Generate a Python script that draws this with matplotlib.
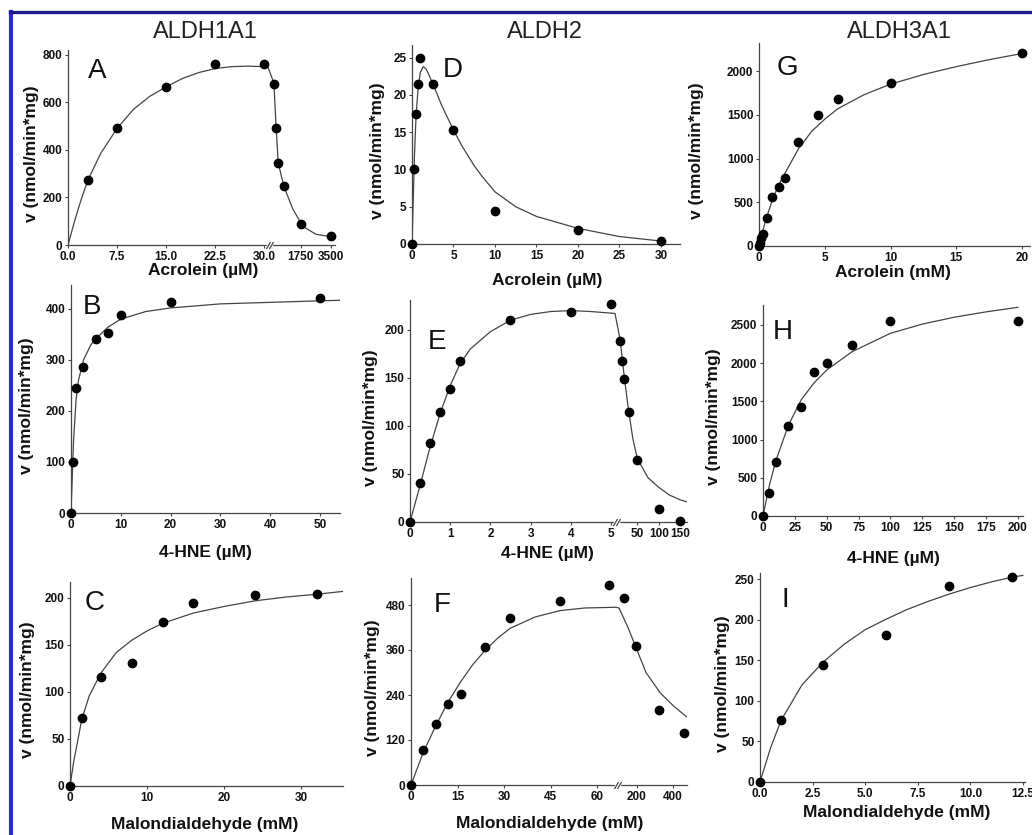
import numpy as np
import matplotlib
matplotlib.use("Agg")
import matplotlib.pyplot as plt
from matplotlib.lines import Line2D

plt.rcParams['font.family'] = ['Liberation Sans', 'DejaVu Sans']

W, H = 1032, 835

# ---- ALDH1A1 ----
a1_acr_s = [3, 7.5, 15, 22.5, 30, 200, 330, 450, 780, 1750, 3500]
a1_acr_v = [272, 490, 666, 762, 762, 678, 490, 343, 247, 88, 38]
a1_acr_fit_s = [0, 1, 2, 3, 5, 7.5, 10, 12.5, 15, 17.5, 20, 22.5, 25, 27.5, 30, 30.6,
                200, 330, 450, 780, 1300, 1880, 2630, 3500]
a1_acr_fit_v = [0, 100, 190, 270, 385, 490, 570, 625, 665, 700, 725, 742, 750, 752, 750, 748,
                680, 490, 345, 245, 150, 78, 45, 35]

a1_hne_s = [0, 0.5, 1, 2.5, 5, 7.5, 10, 20, 50]
a1_hne_v = [0, 100, 245, 287, 342, 353, 389, 413, 421]
a1_hne_fit_s = [0, 0.25, 0.5, 1, 1.5, 2.5, 4, 5, 7.5, 10, 15, 20, 30, 40, 50, 54]
a1_hne_fit_v = [0, 70, 140, 220, 260, 300, 330, 342, 365, 380, 395, 402, 410, 413, 416, 417]

a1_mda_s = [0, 1.5, 4, 8, 12, 16, 24, 32]
a1_mda_v = [0, 72, 116, 131, 174, 195, 203, 204]
a1_mda_fit_s = [0, 0.5, 1, 1.5, 2.5, 4, 6, 8, 10, 12, 16, 20, 24, 28, 32, 35.4]
a1_mda_fit_v = [0, 27, 48, 70, 96, 120, 142, 155, 165, 173, 184, 191, 197, 201, 204, 207]

# ---- ALDH2 ----
a2_acr_s = [0, 0.3, 0.5, 0.75, 1, 2.5, 5, 10, 20, 30]
a2_acr_v = [0, 10, 17.5, 21.5, 25, 21.5, 15.3, 4.4, 1.9, 0.4]
a2_acr_fit_s = [0, 0.3, 0.5, 0.75, 1.0, 1.35, 1.7, 2, 2.5, 3, 3.5, 4, 5, 6, 7.5, 8.5, 10,
                12.5, 15, 20, 25, 30]
a2_acr_fit_v = [0, 12, 17.5, 21, 23, 23.8, 23.5, 22.8, 21.5, 20.2, 18.8, 17.6, 15.3, 13.2,
                10.5, 9.0, 7.0, 5.0, 3.7, 2.1, 1.0, 0.4]

a2_hne_s = [0, 0.25, 0.5, 0.75, 1, 1.25, 2.5, 4, 5, 10, 15, 20, 30, 50, 100, 150]
a2_hne_v = [0, 41, 82, 114, 138, 168, 210, 219, 227, 188, 168, 149, 114, 64, 14, 1]
a2_hne_fit_s = [0, 0.25, 0.5, 0.75, 1, 1.25, 1.5, 2, 2.5, 3, 3.5, 4, 4.5, 5.1,
                10, 15, 20, 30, 40, 50, 75, 100, 125, 150, 165]
a2_hne_fit_v = [0, 38, 78, 113, 142, 165, 180, 198, 210, 216, 219, 220, 219, 217,
                190, 170, 150, 115, 86, 66, 46, 36, 28, 23, 21]

a2_mda_s = [0, 4, 8, 12, 16, 24, 32, 48, 64, 128, 192, 320, 460]
a2_mda_v = [0, 93, 163, 215, 243, 367, 446, 491, 533, 500, 371, 200, 140]
a2_mda_fit_s = [0, 4, 8, 12, 16, 20, 24, 28, 32, 40, 48, 56, 66.1,
                100, 150, 190, 250, 330, 405, 475]
a2_mda_fit_v = [0, 88, 158, 222, 275, 322, 360, 392, 418, 448, 465, 472, 474,
                472, 420, 372, 300, 245, 210, 182]

# ---- ALDH3A1 ----
a3_acr_s = [0, 0.05, 0.15, 0.3, 0.6, 1, 1.5, 2, 3, 4.5, 6, 10, 20]
a3_acr_v = [0, 40, 90, 140, 320, 560, 670, 780, 1190, 1500, 1680, 1860, 2210]
a3_acr_fit_s = [0, 0.25, 0.5, 1, 1.5, 2, 3, 4, 5, 6, 8, 10, 12.5, 15, 17.5, 20]
a3_acr_fit_v = [0, 150, 290, 520, 700, 840, 1110, 1310, 1450, 1570, 1730, 1850, 1960, 2050, 2130, 2200]

a3_hne_s = [0, 5, 10, 20, 30, 40, 50, 70, 100, 200]
a3_hne_v = [0, 300, 710, 1180, 1430, 1890, 2000, 2240, 2545, 2545]
a3_hne_fit_s = [0, 5, 10, 20, 30, 40, 50, 70, 100, 125, 150, 175, 200]
a3_hne_fit_v = [0, 400, 720, 1190, 1520, 1740, 1910, 2150, 2390, 2510, 2600, 2670, 2730]

a3_mda_s = [0, 1, 3, 6, 9, 12]
a3_mda_v = [0, 77, 145, 181, 242, 253]
a3_mda_fit_s = [0, 0.5, 1, 2, 3, 4, 5, 6, 7, 8, 9, 10, 11, 12, 12.5]
a3_mda_fit_v = [0, 42, 76, 120, 148, 170, 188, 201, 213, 223, 232, 240, 247, 253, 255]

# ---- ticks ----
xt_a = [0, 7.5, 15, 22.5, 30, 1750, 3500]
xtl_a = ['0.0', '7.5', '15.0', '22.5', '30.0', '1750', '3500']
xt_d = [0, 5, 10, 15, 20, 25, 30]
xt_g = [0, 5, 10, 15, 20]
xt_b = [0, 10, 20, 30, 40, 50]
xt_e = [0, 1, 2, 3, 4, 5, 50, 100, 150]
xt_h = [0, 25, 50, 75, 100, 125, 150, 175, 200]
xt_c = [0, 10, 20, 30]
xt_f = [0, 15, 30, 45, 60, 200, 400]
xt_i = [0, 2.5, 5, 7.5, 10, 12.5]
xtl_i = ['0.0', '2.5', '5.0', '7.5', '10.0', '12.5']

yt_a = [0, 200, 400, 600, 800]
yt_d = [0, 5, 10, 15, 20, 25]
yt_g = [0, 500, 1000, 1500, 2000]
yt_b = [0, 100, 200, 300, 400]
yt_e = [0, 50, 100, 150, 200]
yt_h = [0, 500, 1000, 1500, 2000, 2500]
yt_c = [0, 50, 100, 150, 200]
yt_f = [0, 120, 240, 360, 480]
yt_i = [0, 50, 100, 150, 200, 250]

YLABEL = 'v (nmol/min*mg)'
LINE_C = '#444444'

fig = plt.figure(figsize=(W / 100, H / 100), dpi=100)


def px_axes(left, right, bottom, top):
    return fig.add_axes([left / W, 1 - bottom / H, (right - left) / W, (bottom - top) / H])


def piecewise_scale(data_knots, px_knots):
    d = np.asarray(data_knots, float)
    p = np.asarray(px_knots, float)
    s0 = (p[1] - p[0]) / (d[1] - d[0])
    s1 = (p[-1] - p[-2]) / (d[-1] - d[-2])
    d = np.concatenate([[d[0] - 1e6], d, [d[-1] + 1e6]])
    p = np.concatenate([[p[0] - 1e6 * s0], p, [p[-1] + 1e6 * s1]])
    return (lambda x: np.interp(x, d, p)), (lambda y: np.interp(y, p, d))


def panel(box, s, v, fit_s, fit_v, xlim, ylim, xticks, yticks, xlabel, letter, letter_px,
          xlab_pos, ylab_x, xticklabels=None, breaks=None):
    left, right, bottom, top = box
    ax = px_axes(left, right, bottom, top)
    if breaks is not None:
        data_knots, px_knots = breaks
        ax.set_xscale('function', functions=piecewise_scale(data_knots, px_knots))
    ax.plot(fit_s, fit_v, color=LINE_C, lw=0.9, zorder=2)
    ax.plot(s, v, 'o', color='black', ms=6, zorder=3, clip_on=False)
    ax.set_xlim(*xlim)
    ax.set_ylim(*ylim)
    ax.set_xticks(xticks)
    if xticklabels is not None:
        ax.set_xticklabels(xticklabels)
    ax.set_yticks(yticks)
    for side in ('top', 'right'):
        ax.spines[side].set_visible(False)
    for side in ('left', 'bottom'):
        ax.spines[side].set_color(LINE_C)
        ax.spines[side].set_linewidth(0.9)
    ax.tick_params(direction='out', length=2.5, width=0.8, color=LINE_C, pad=1.5,
                   labelsize=8.5, labelcolor='#111111')
    for lab in ax.get_xticklabels() + ax.get_yticklabels():
        lab.set_fontweight('bold')
    ax.set_xlabel(xlabel, fontsize=12.5, fontweight='bold', color='#111111')
    ax.set_ylabel(YLABEL, fontsize=12.5, fontweight='bold', color='#111111')
    ax.xaxis.set_label_coords(*xlab_pos)
    ax.xaxis.label.set_verticalalignment('center')
    ax.yaxis.set_label_coords(ylab_x, 0.47)
    ax.yaxis.label.set_verticalalignment('center')
    lx, ly = letter_px
    ax.text((lx - left) / (right - left), (bottom - ly) / (bottom - top), letter,
            transform=ax.transAxes, fontsize=20, ha='center', va='center', color='#111111')
    if breaks is not None:
        # axis break: white gap in the baseline with two slashes
        b0, b1 = breaks[0][1], breaks[0][2]
        trans = ax.get_xaxis_transform()
        ax.plot([b0, b1], [0, 0], color='white', lw=2.5, transform=trans,
                clip_on=False, zorder=4)
        ax.plot([b0, b1], [0, 0], ls='none', marker=[(-1, -1.7), (1, 1.7)], ms=5,
                mec=LINE_C, mew=0.9, transform=trans, clip_on=False, zorder=5)
    return ax


# top row: acrolein
panel((68, 335, 245, 50), a1_acr_s, a1_acr_v, a1_acr_fit_s, a1_acr_fit_v,
      (0, 3730), (0, 820), xt_a, yt_a, 'Acrolein (µM)', 'A', (97, 71),
      (0.506, -0.13), -0.135, xticklabels=xtl_a,
      breaks=([0, 30.6, 31, 3730], [0, 200, 203, 267]))
panel((412, 680, 244, 45), a2_acr_s, a2_acr_v, a2_acr_fit_s, a2_acr_fit_v,
      (0, 32.3), (0, 26.7), xt_d, yt_d, 'Acrolein (µM)', 'D', (453, 70),
      (0.504, -0.181), -0.129)
panel((759, 1030, 246, 43), a3_acr_s, a3_acr_v, a3_acr_fit_s, a3_acr_fit_v,
      (0, 20.6), (0, 2320), xt_g, yt_g, 'Acrolein (mM)', 'G', (787, 68),
      (0.494, -0.13), -0.229)

# middle row: 4-HNE
panel((71, 340, 513, 285), a1_hne_s, a1_hne_v, a1_hne_fit_s, a1_hne_fit_v,
      (0, 54), (0, 447), xt_b, yt_b, '4-HNE (µM)', 'B', (92, 307),
      (0.498, -0.175), -0.164)
panel((410, 687, 522, 300), a2_hne_s, a2_hne_v, a2_hne_fit_s, a2_hne_fit_v,
      (0, 165.6), (0, 231), xt_e, yt_e, '4-HNE (µM)', 'E', (437, 342),
      (0.495, -0.14), -0.144,
      breaks=([0, 5.1, 5.15, 165.6], [0, 205, 208, 277]))
panel((763, 1023, 516, 305), a3_hne_s, a3_hne_v, a3_hne_fit_s, a3_hne_fit_v,
      (0, 204), (0, 2760), xt_h, yt_h, '4-HNE (µM)', 'H', (783, 332),
      (0.5, -0.2), -0.192)

# bottom row: malondialdehyde
panel((70, 343, 786, 582), a1_mda_s, a1_mda_v, a1_mda_fit_s, a1_mda_fit_v,
      (0, 35.4), (0, 217), xt_c, yt_c, 'Malondialdehyde (mM)', 'C', (95, 603),
      (0.494, -0.19), -0.154)
panel((411, 687, 785, 578), a2_mda_s, a2_mda_v, a2_mda_fit_s, a2_mda_fit_v,
      (0, 477.8), (0, 552), xt_f, yt_f, 'Malondialdehyde (mM)', 'F', (442, 605),
      (0.504, -0.184), -0.141,
      breaks=([0, 66.1, 100, 477.8], [0, 205, 208, 276]))
panel((760, 1025, 782, 573), a3_mda_s, a3_mda_v, a3_mda_fit_s, a3_mda_fit_v,
      (0, 12.6), (0, 258), xt_i, yt_i, 'Malondialdehyde (mM)', 'I', (785, 600),
      (0.517, -0.148), -0.143, xticklabels=xtl_i)

# enzyme headings
for name, cx in (('ALDH1A1', 205), ('ALDH2', 545), ('ALDH3A1', 899)):
    fig.text(cx / W, 1 - 32 / H, name, fontsize=17, ha='center', va='center', color='#222222')

# blue frame along the top and left edges
fig.add_artist(Line2D([11 / W, 11 / W], [0, 1 - 12 / H], color='#2a2ad8', lw=3.0))
fig.add_artist(Line2D([10 / W, 1], [1 - 12 / H, 1 - 12 / H], color='#1a1a8c', lw=2.4))

fig.savefig('out.png', dpi=100)
